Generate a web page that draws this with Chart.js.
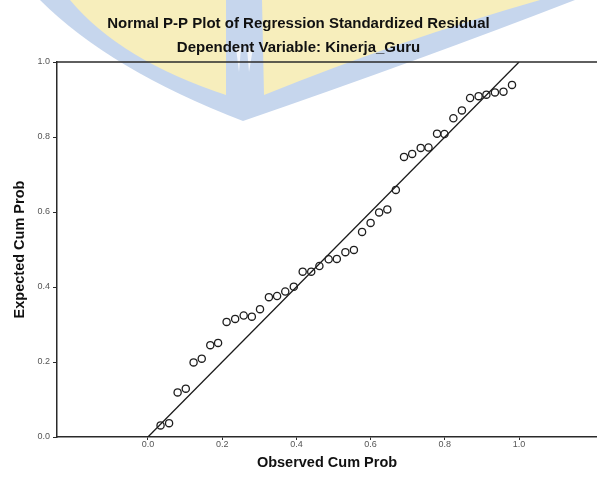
<!DOCTYPE html>
<html>
<head>
<meta charset="utf-8">
<script src="https://cdn.jsdelivr.net/npm/chart.js@4.4.1/dist/chart.umd.min.js"></script>
<style>
  html, body { margin: 0; padding: 0; background: #ffffff; }
  #wrap { width: 597px; height: 478px; }
</style>
</head>
<body>
<div id="wrap"><canvas id="c" width="597" height="478"></canvas></div>
<script>
// ---- data ----
const observedCumProb = [0.034, 0.057, 0.080, 0.102, 0.123, 0.145, 0.168, 0.189, 0.212, 0.235,
  0.258, 0.280, 0.302, 0.326, 0.348, 0.370, 0.393, 0.417, 0.440, 0.462,
  0.487, 0.509, 0.532, 0.555, 0.577, 0.600, 0.623, 0.645, 0.668, 0.690,
  0.712, 0.735, 0.756, 0.779, 0.799, 0.823, 0.846, 0.868, 0.891, 0.912,
  0.935, 0.958, 0.981];
const expectedCumProb = [0.031, 0.037, 0.119, 0.129, 0.199, 0.209, 0.245, 0.251, 0.307, 0.315,
  0.324, 0.321, 0.341, 0.373, 0.376, 0.388, 0.401, 0.441, 0.441, 0.456,
  0.474, 0.475, 0.493, 0.499, 0.547, 0.571, 0.599, 0.607, 0.659, 0.747,
  0.755, 0.771, 0.772, 0.809, 0.808, 0.850, 0.871, 0.904, 0.909, 0.913,
  0.919, 0.921, 0.939];
const referenceLineX = [0, 1];
const referenceLineY = [0, 1];
const xTickValues = [0.0, 0.2, 0.4, 0.6, 0.8, 1.0];
const yTickValues = [0.0, 0.2, 0.4, 0.6, 0.8, 1.0];
const titleText = 'Normal P-P Plot of Regression Standardized Residual';
const subtitleText = 'Dependent Variable: Kinerja_Guru';
const xAxisTitle = 'Observed Cum Prob';
const yAxisTitle = 'Expected Cum Prob';

const points = observedCumProb.map((x, i) => ({ x: x, y: expectedCumProb[i] }));
const linePts = referenceLineX.map((x, i) => ({ x: x, y: referenceLineY[i] }));

const FONT = '"Liberation Sans", Arial, sans-serif';

const backdrop = {
  id: 'backdrop',
  beforeDraw(chart) {
    const ctx = chart.ctx;
    ctx.save();
    ctx.fillStyle = '#ffffff';
    ctx.fillRect(0, 0, chart.width, chart.height);
    // faint watermark logo behind the titles
    ctx.fillStyle = '#c6d6ed';
    ctx.beginPath();
    ctx.moveTo(40, 0);
    ctx.lineTo(575, 0);
    ctx.quadraticCurveTo(420, 60, 243, 121);
    ctx.quadraticCurveTo(110, 70, 40, 0);
    ctx.closePath();
    ctx.fill();
    ctx.fillStyle = '#f7eebc';
    ctx.beginPath();
    ctx.moveTo(70, 0);
    ctx.lineTo(226, 0);
    ctx.lineTo(226, 95);
    ctx.quadraticCurveTo(120, 60, 70, 0);
    ctx.closePath();
    ctx.fill();
    ctx.beginPath();
    ctx.moveTo(262, 0);
    ctx.lineTo(540, 0);
    ctx.quadraticCurveTo(400, 40, 264, 95);
    ctx.closePath();
    ctx.fill();
    ctx.fillStyle = '#f4f7fb';
    ctx.beginPath();
    ctx.moveTo(236, 48);
    ctx.lineTo(241, 48);
    ctx.lineTo(239, 72);
    ctx.closePath();
    ctx.fill();
    ctx.beginPath();
    ctx.moveTo(247, 48);
    ctx.lineTo(253, 48);
    ctx.lineTo(249, 72);
    ctx.closePath();
    ctx.fill();
    ctx.restore();
  },
  afterDraw(chart) {
    const a = chart.chartArea;
    const ctx = chart.ctx;
    ctx.save();
    ctx.strokeStyle = '#2a2a2a';
    ctx.lineWidth = 1.5;
    ctx.beginPath();
    ctx.moveTo(a.left, a.top);
    ctx.lineTo(a.right, a.top);
    ctx.stroke();
    ctx.restore();
  }
};

new Chart(document.getElementById('c'), {
  type: 'scatter',
  data: {
    datasets: [
      {
        type: 'line',
        data: linePts,
        borderColor: '#1a1a1a',
        borderWidth: 1.3,
        pointRadius: 0,
        fill: false,
        tension: 0,
        order: 2
      },
      {
        data: points,
        pointStyle: 'circle',
        pointRadius: 3.6,
        borderColor: '#1e1e1e',
        borderWidth: 1.3,
        backgroundColor: 'rgba(0,0,0,0)',
        order: 1
      }
    ]
  },
  options: {
    responsive: false,
    animation: false,
    devicePixelRatio: 1,
    layout: { autoPadding: false, padding: { top: 0, right: 0, bottom: 0, left: 0 } },
    plugins: {
      legend: { display: false },
      tooltip: { enabled: false },
      title: {
        display: true,
        text: titleText,
        color: '#111',
        font: { family: FONT, size: 15, weight: 'bold' },
        padding: { top: 14.5, bottom: 0 }
      },
      subtitle: {
        display: true,
        text: subtitleText,
        color: '#111',
        font: { family: FONT, size: 15, weight: 'bold' },
        padding: { top: 6, bottom: 5.5 }
      }
    },
    scales: {
      x: {
        type: 'linear',
        min: -0.245,
        max: 1.21,
        afterBuildTicks(scale) { scale.ticks = xTickValues.map(v => ({ value: v })); },
        afterFit(scale) { scale.height = 41; scale.paddingLeft = 0; scale.paddingRight = 0; },
        border: { display: true, color: '#2a2a2a', width: 1.5 },
        grid: { display: true, drawOnChartArea: false, drawTicks: true, tickLength: 3, color: '#2a2a2a', lineWidth: 1 },
        ticks: {
          color: '#555',
          font: { family: FONT, size: 9 },
          padding: -1,
          maxRotation: 0,
          callback: v => Number(v).toFixed(1)
        },
        title: {
          display: true,
          text: xAxisTitle,
          color: '#111',
          font: { family: FONT, size: 14.5, weight: 'bold' },
          padding: { top: 0, bottom: 6.3 }
        }
      },
      y: {
        type: 'linear',
        min: 0,
        max: 1,
        afterBuildTicks(scale) { scale.ticks = yTickValues.map(v => ({ value: v })); },
        afterFit(scale) { scale.width = 57; },
        border: { display: true, color: '#2a2a2a', width: 1.5 },
        grid: { display: true, drawOnChartArea: false, drawTicks: true, tickLength: 4, color: '#2a2a2a', lineWidth: 1 },
        ticks: {
          color: '#555',
          font: { family: FONT, size: 9 },
          padding: 3,
          callback: v => Number(v).toFixed(1)
        },
        title: {
          display: true,
          text: yAxisTitle,
          color: '#111',
          font: { family: FONT, size: 14.5, weight: 'bold' },
          padding: { top: 11.3, bottom: 0 }
        }
      }
    }
  },
  plugins: [backdrop]
});
</script>
</body>
</html>
